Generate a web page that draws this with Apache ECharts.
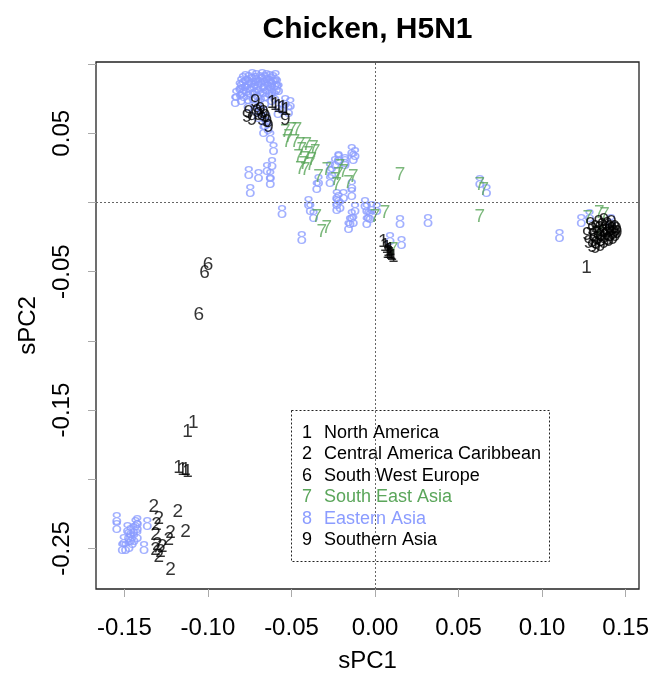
<!DOCTYPE html>
<html>
<head>
<meta charset="utf-8">
<script src="https://cdn.jsdelivr.net/npm/echarts@6/dist/echarts.min.js"></script>
<style>html,body{margin:0;padding:0;background:#fff}#c{width:651px;height:673px}</style>
</head>
<body>
<div id="c"></div>
<script>
const categories = ['North America', 'Central America Caribbean', 'South West Europe', 'South East Asia', 'Eastern Asia', 'Southern Asia'];
const glyphs = ['1', '2', '6', '7', '8', '9'];
const colors = ['#000000', '#000000', '#000000', '#5ba65b', '#8b9cff', '#000000'];

const xTicks = [-0.15, -0.10, -0.05, 0.00, 0.05, 0.10, 0.15];
const yTicks = [-0.25, -0.20, -0.15, -0.10, -0.05, 0.00, 0.05, 0.10];
const yTickLabels = [-0.25, -0.15, -0.05, 0.05];

const northAmerica = [
  [0.0050, -0.0283], [0.0060, -0.0310], [0.0070, -0.0330], [0.0080, -0.0350], [0.0085, -0.0360],
  [0.0090, -0.0340], [0.0095, -0.0370], [0.0100, -0.0380], [0.0075, -0.0365], [0.0110, -0.0390],
  [0.1266, -0.0473],
  [-0.1087, -0.1590], [-0.1122, -0.1660],
  [-0.1176, -0.1920], [-0.1152, -0.1930], [-0.1134, -0.1935], [-0.1122, -0.1945],
  [-0.0617, 0.0717], [-0.0597, 0.0704], [-0.0577, 0.0692], [-0.0553, 0.0681], [-0.0533, 0.0668]
];
const centralAmerica = [
  [-0.1324, -0.2198], [-0.1180, -0.2234], [-0.1294, -0.2282], [-0.1307, -0.2330], [-0.1134, -0.2379],
  [-0.1224, -0.2390], [-0.1313, -0.2402], [-0.1234, -0.2439], [-0.1303, -0.2475], [-0.1273, -0.2487],
  [-0.1313, -0.2511], [-0.1284, -0.2523], [-0.1294, -0.2559], [-0.1224, -0.2655]
];
const southWestEurope = [
  [-0.0999, -0.0452], [-0.1021, -0.0509], [-0.1055, -0.0813]
];
const southEastAsia = [
  [-0.0537, 0.0512], [-0.0497, 0.0524], [-0.0467, 0.0524], [-0.0518, 0.0475], [-0.0527, 0.0439],
  [-0.0478, 0.0439], [-0.0448, 0.0415], [-0.0408, 0.0415], [-0.0368, 0.0392], [-0.0438, 0.0379],
  [-0.0398, 0.0355], [-0.0358, 0.0367], [-0.0458, 0.0331], [-0.0418, 0.0319], [-0.0378, 0.0307],
  [-0.0428, 0.0283], [-0.0388, 0.0271], [-0.0448, 0.0247], [-0.0418, 0.0235], [-0.0338, 0.0186],
  [-0.0288, 0.0235], [-0.0209, 0.0259], [-0.0219, 0.0199], [-0.0159, 0.0139], [-0.0130, 0.0186],
  [-0.0229, 0.0126], [-0.0189, 0.0223], [-0.0239, 0.0163],
  [-0.0348, -0.0103], [-0.0318, -0.0211], [-0.0288, -0.0186],
  [0.0000, -0.0103], [0.0060, -0.0078], [0.0109, -0.0343], [0.0149, 0.0199],
  [0.0627, 0.0126], [0.0651, 0.0090], [0.0627, -0.0103],
  [0.1273, -0.0114], [0.1343, -0.0078], [0.1373, -0.0090], [0.1333, -0.0223]
];
const easternAsia = [
  [-0.0810, 0.0830], [-0.0800, 0.0860], [-0.0795, 0.0800], [-0.0790, 0.0880], [-0.0785, 0.0770],
  [-0.0780, 0.0840], [-0.0775, 0.0895], [-0.0770, 0.0810], [-0.0765, 0.0860], [-0.0760, 0.0750],
  [-0.0755, 0.0890], [-0.0750, 0.0830], [-0.0745, 0.0790], [-0.0740, 0.0870], [-0.0735, 0.0905],
  [-0.0730, 0.0760], [-0.0725, 0.0840], [-0.0720, 0.0810], [-0.0715, 0.0880], [-0.0710, 0.0900],
  [-0.0705, 0.0780], [-0.0700, 0.0850], [-0.0695, 0.0820], [-0.0690, 0.0890], [-0.0685, 0.0760],
  [-0.0680, 0.0870], [-0.0675, 0.0910], [-0.0670, 0.0800], [-0.0665, 0.0840], [-0.0660, 0.0885],
  [-0.0655, 0.0770], [-0.0650, 0.0900], [-0.0645, 0.0820], [-0.0640, 0.0860], [-0.0635, 0.0790],
  [-0.0630, 0.0895], [-0.0625, 0.0840], [-0.0620, 0.0870], [-0.0615, 0.0810], [-0.0610, 0.0885],
  [-0.0600, 0.0850], [-0.0595, 0.0900], [-0.0590, 0.0820], [-0.0600, 0.0760], [-0.0620, 0.0740],
  [-0.0660, 0.0720], [-0.0700, 0.0700], [-0.0760, 0.0700], [-0.0800, 0.0740], [-0.0830, 0.0770],
  [-0.0720, 0.0670], [-0.0680, 0.0640], [-0.0650, 0.0600], [-0.0700, 0.0620], [-0.0660, 0.0560],
  [-0.0640, 0.0530], [-0.0580, 0.0650], [-0.0560, 0.0680],
  [-0.0836, 0.0728], [-0.0806, 0.0789], [-0.0587, 0.0849], [-0.0577, 0.0813], [-0.0537, 0.0717],
  [-0.0507, 0.0704], [-0.0518, 0.0656], [-0.0667, 0.0512], [-0.0627, 0.0464], [-0.0607, 0.0379],
  [-0.0617, 0.0271], [-0.0756, 0.0211], [-0.0697, 0.0186], [-0.0647, 0.0235], [-0.0627, 0.0186],
  [-0.0627, 0.0139], [-0.0746, 0.0078], [-0.0557, -0.0078], [-0.0438, -0.0259], [-0.0398, -0.0006],
  [-0.0348, 0.0103], [-0.0338, 0.0150], [-0.0269, 0.0247], [-0.0259, 0.0211], [-0.0239, 0.0283],
  [-0.0219, 0.0319], [-0.0179, 0.0295], [-0.0139, 0.0367], [-0.0130, 0.0319], [-0.0119, 0.0343],
  [-0.0269, 0.0150], [-0.0229, 0.0042], [-0.0229, -0.0006], [-0.0209, -0.0030], [-0.0189, 0.0042],
  [-0.0229, -0.0042], [-0.0139, 0.0054], [-0.0119, -0.0054], [-0.0139, -0.0103], [-0.0149, -0.0150],
  [-0.0130, -0.0139], [-0.0159, -0.0186], [-0.0060, -0.0018], [-0.0050, -0.0054], [-0.0040, -0.0103],
  [-0.0050, -0.0150], [-0.0020, -0.0042], [0.0149, -0.0150], [0.0159, -0.0295], [0.0090, -0.0271],
  [-0.0388, -0.0054], [-0.0368, -0.0103], [-0.0219, 0.0307], [-0.0179, 0.0283], [-0.0219, 0.0018],
  [-0.0139, 0.0114], [0.0010, -0.0054], [-0.0030, -0.0114], [0.0318, -0.0139],
  [0.0627, 0.0139], [0.0667, 0.0078],
  [0.1104, -0.0247], [0.1234, -0.0139], [0.1284, -0.0103], [0.1413, -0.0139],
  [-0.1546, -0.2294], [-0.1546, -0.2347], [-0.1482, -0.2366], [-0.1463, -0.2390], [-0.1433, -0.2330],
  [-0.1423, -0.2354], [-0.1443, -0.2439], [-0.1453, -0.2462], [-0.1473, -0.2487], [-0.1512, -0.2499],
  [-0.1493, -0.2499], [-0.1503, -0.2451], [-0.1423, -0.2415], [-0.1363, -0.2330], [-0.1383, -0.2499],
  [-0.1423, -0.2318], [-0.1463, -0.2439], [-0.1445, -0.2374], [-0.1475, -0.2417]
];
const southernAsia = [
  [-0.0716, 0.0728], [-0.0766, 0.0620], [-0.0736, 0.0596], [-0.0697, 0.0632], [-0.0676, 0.0596],
  [-0.0657, 0.0620], [-0.0637, 0.0548], [-0.0537, 0.0596], [-0.0706, 0.0656], [-0.0687, 0.0668],
  [-0.0667, 0.0645], [-0.0647, 0.0584], [-0.0756, 0.0645],
  [0.1290, -0.0160], [0.1300, -0.0200], [0.1305, -0.0240], [0.1310, -0.0280], [0.1320, -0.0180],
  [0.1325, -0.0300], [0.1330, -0.0220], [0.1335, -0.0260], [0.1340, -0.0150], [0.1345, -0.0190],
  [0.1350, -0.0240], [0.1355, -0.0280], [0.1360, -0.0170], [0.1365, -0.0210], [0.1370, -0.0130],
  [0.1375, -0.0250], [0.1380, -0.0190], [0.1385, -0.0230], [0.1390, -0.0160], [0.1395, -0.0270],
  [0.1400, -0.0210], [0.1405, -0.0180], [0.1410, -0.0240], [0.1415, -0.0150], [0.1420, -0.0200],
  [0.1425, -0.0260], [0.1430, -0.0220], [0.1435, -0.0180], [0.1440, -0.0240], [0.1445, -0.0200],
  [0.1450, -0.0220], [0.1300, -0.0320], [0.1320, -0.0330], [0.1280, -0.0290], [0.1350, -0.0310],
  [0.1370, -0.0290], [0.1400, -0.0280], [0.1270, -0.0230]
];

const seriesData = [northAmerica, centralAmerica, southWestEurope, southEastAsia, easternAsia, southernAsia];
const seriesZ = [5, 5, 5, 4, 3, 5];
const FONT = '"Liberation Sans", Arial, sans-serif';

const chart = echarts.init(document.getElementById('c'), null, { renderer: 'canvas' });

const series = categories.map((name, i) => ({
  name: name,
  type: 'scatter',
  data: seriesData[i],
  symbol: 'circle',
  symbolSize: 1,
  z: seriesZ[i],
  itemStyle: { color: 'rgba(0,0,0,0)' },
  label: {
    show: true,
    position: 'inside',
    formatter: glyphs[i],
    color: colors[i],
    textBorderWidth: 0,
    fontSize: 19,
    fontFamily: FONT
  },
  emphasis: { disabled: true },
  silent: true
}));

series.push({
  type: 'scatter',
  data: [],
  z: 1,
  silent: true,
  markLine: {
    silent: true,
    symbol: 'none',
    label: { show: false },
    lineStyle: { type: [2, 2], color: '#666', width: 1 },
    data: [{ xAxis: 0 }, { yAxis: 0 }]
  }
});

const legendData = categories.map((name, i) => ({
  name: name,
  textStyle: {
    color: colors[i],
    rich: {
      g: { width: 22, color: colors[i], fontSize: 18, fontFamily: FONT },
      t: { color: colors[i], fontSize: 18, fontFamily: FONT }
    }
  }
}));

chart.setOption({
  animation: false,
  backgroundColor: '#ffffff',
  title: {
    text: 'Chicken, H5N1',
    left: 367.5,
    textAlign: 'center',
    top: 15,
    padding: 0,
    textStyle: { fontSize: 30, fontWeight: 'bold', color: '#000', fontFamily: FONT }
  },
  grid: {
    left: 96, right: 12, top: 62, bottom: 84,
    outerBoundsMode: 'none',
    containLabel: false,
    show: true, borderColor: '#222', borderWidth: 1.3, backgroundColor: 'transparent'
  },
  legend: {
    orient: 'vertical',
    left: 297,
    top: 424,
    padding: 0,
    itemGap: 3.5,
    itemWidth: 0,
    itemHeight: 0,
    selectedMode: false,
    data: legendData,
    formatter: name => '{g|' + glyphs[categories.indexOf(name)] + '}{t|' + name + '}',
    textStyle: { fontSize: 18, fontFamily: FONT }
  },
  graphic: [{
    type: 'rect',
    shape: { x: 291.5, y: 410.5, width: 258, height: 151 },
    style: { fill: 'none', stroke: '#222', lineWidth: 1, lineDash: [2, 2] },
    z: 10
  }],
  xAxis: {
    type: 'value',
    min: -0.167,
    max: 0.158,
    name: 'sPC1',
    nameLocation: 'middle',
    nameGap: 60,
    nameTextStyle: { fontSize: 24, color: '#000', fontFamily: FONT },
    axisLine: { show: false, onZero: false },
    splitLine: { show: false },
    axisTick: { show: true, length: 8, customValues: xTicks, lineStyle: { color: '#aaa' } },
    axisLabel: {
      customValues: xTicks, margin: 27, fontSize: 24, color: '#000', fontFamily: FONT,
      formatter: v => v.toFixed(2)
    }
  },
  yAxis: {
    type: 'value',
    min: -0.2793,
    max: 0.1015,
    name: 'sPC2',
    nameLocation: 'middle',
    nameGap: 56,
    nameRotate: 90,
    nameTextStyle: { fontSize: 24, color: '#000', fontFamily: FONT },
    axisLine: { show: false, onZero: false },
    splitLine: { show: false },
    axisTick: { show: true, length: 8, customValues: yTicks, lineStyle: { color: '#aaa' } },
    axisLabel: {
      customValues: yTickLabels, rotate: 90, margin: 22, fontSize: 24, color: '#000', fontFamily: FONT,
      formatter: v => v.toFixed(2)
    }
  },
  series: series
});
</script>
</body>
</html>
